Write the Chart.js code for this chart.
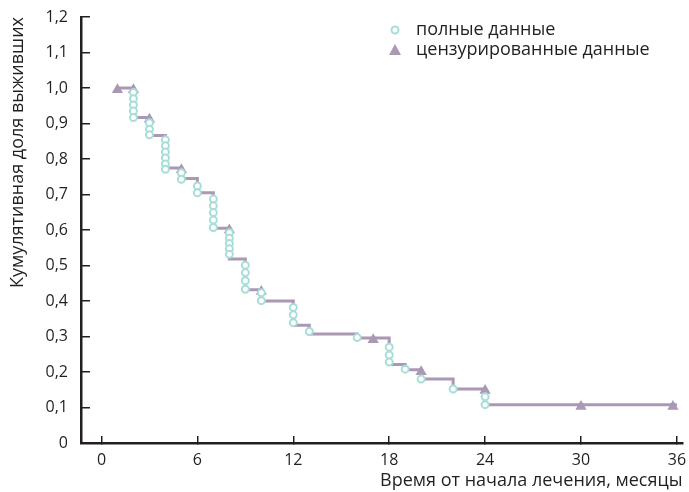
<!DOCTYPE html>
<html>
<head>
<meta charset="utf-8">
<script src="https://cdn.jsdelivr.net/npm/chart.js@4/dist/chart.umd.min.js"></script>
<style>
  html, body { margin: 0; padding: 0; background: #fff; }
  #wrap { width: 689px; height: 492px; }
</style>
</head>
<body>
<div id="wrap"><canvas id="kmChart" width="689" height="492"></canvas></div>
<script>
// ---- data ----
// step curve (level after each time point)
const lineTimes  = [1, 2, 3, 4, 5, 6, 7, 8, 9, 10, 12, 13, 16, 18, 19, 20, 22, 24, 36];
const lineLevels = [1.0, 0.917, 0.866, 0.775, 0.745, 0.705, 0.605, 0.518, 0.432, 0.400, 0.332, 0.307, 0.296, 0.221, 0.206, 0.180, 0.152, 0.108, 0.108];

// complete data (events, circles)
const eventTimes  = [2, 2, 2, 2, 2, 3, 3, 3, 4, 4, 4, 4, 4, 4, 5, 5, 6, 6, 7, 7, 7, 7, 7,
                     8, 8, 8, 8, 8, 9, 9, 9, 9, 10, 10, 12, 12, 12, 13, 16, 18, 18, 18, 19, 20, 22, 24, 24];
const eventValues = [0.987, 0.970, 0.952, 0.935, 0.917, 0.902, 0.884, 0.868,
                     0.854, 0.837, 0.820, 0.803, 0.786, 0.771, 0.761, 0.743, 0.724, 0.705,
                     0.687, 0.668, 0.649, 0.628, 0.607, 0.592, 0.577, 0.562, 0.547, 0.532,
                     0.501, 0.480, 0.457, 0.433, 0.423, 0.401, 0.382, 0.361, 0.339, 0.314,
                     0.297, 0.270, 0.248, 0.228, 0.208, 0.180, 0.152, 0.130, 0.108];

// censored data (triangles)
const censoredTimes  = [1, 2, 3, 5, 8, 10, 17, 20, 24, 30, 35.75];
const censoredValues = [0.995, 0.995, 0.912, 0.770, 0.600, 0.427, 0.291, 0.201, 0.148, 0.103, 0.103];

const xTicks = [0, 6, 12, 18, 24, 30, 36];
const legendLabels = ["полные данные", "цензурированные данные"];

const circleColor = "rgb(168, 222, 216)";
const mauve = "rgb(170, 152, 180)";
const ink = "#231f20";
const fontName = "'Open Sans', sans-serif";

function toPoints(xs, ys) {
  return xs.map(function (x, i) { return { x: x, y: ys[i] }; });
}

// legend drawn in the upper right corner, like the original
const cornerLegend = {
  id: "cornerLegend",
  afterDraw: function (chart) {
    const ctx = chart.ctx;
    ctx.save();
    ctx.font = "18px " + fontName;
    ctx.textBaseline = "middle";
    ctx.textAlign = "left";

    // circle
    ctx.beginPath();
    ctx.arc(395, 30, 3.5, 0, Math.PI * 2);
    ctx.fillStyle = "#fff";
    ctx.fill();
    ctx.lineWidth = 2;
    ctx.strokeStyle = circleColor;
    ctx.stroke();
    ctx.fillStyle = ink;
    ctx.fillText(legendLabels[0], 416, 30);

    // triangle
    ctx.beginPath();
    ctx.moveTo(395, 44);
    ctx.lineTo(401, 55);
    ctx.lineTo(389, 55);
    ctx.closePath();
    ctx.fillStyle = mauve;
    ctx.fill();
    ctx.fillStyle = ink;
    ctx.fillText(legendLabels[1], 416, 50);
    ctx.restore();
  }
};

const config = {
  type: "scatter",
  data: {
    datasets: [
      {
        label: legendLabels[0],
        data: toPoints(eventTimes, eventValues),
        pointStyle: "circle",
        pointRadius: 3.5,
        pointBorderWidth: 2,
        pointBorderColor: circleColor,
        pointBackgroundColor: "#fff",
        showLine: false
      },
      {
        label: legendLabels[1],
        data: toPoints(censoredTimes, censoredValues),
        pointStyle: "triangle",
        pointRadius: 6.5,
        pointBorderWidth: 0,
        pointBackgroundColor: mauve,
        pointBorderColor: mauve,
        showLine: false
      },
      {
        label: "curve",
        data: toPoints(lineTimes, lineLevels),
        showLine: true,
        stepped: true,
        borderColor: mauve,
        borderWidth: 3,
        pointRadius: 0,
        fill: false
      }
    ]
  },
  options: {
    responsive: false,
    animation: false,
    layout: { padding: { top: 17, right: 6, left: 0, bottom: 0 } },
    plugins: {
      legend: { display: false },
      tooltip: { enabled: false }
    },
    scales: {
      x: {
        type: "linear",
        min: -1.28,
        max: 36.35,
        afterBuildTicks: function (axis) {
          axis.ticks = xTicks.map(function (v) { return { value: v }; });
        },
        afterFit: function (axis) {
          axis.height = 49;
          axis.paddingLeft = 0;
          axis.paddingRight = 0;
        },
        grid: {
          drawOnChartArea: false,
          drawTicks: true,
          tickLength: -7,
          color: ink,
          lineWidth: 1.5
        },
        border: { color: ink, width: 2.5 },
        ticks: {
          color: ink,
          font: { family: fontName, size: 16 },
          padding: 15,
          maxRotation: 0,
          autoSkip: false
        },
        title: {
          display: true,
          text: "Время от начала лечения, месяцы",
          align: "end",
          color: ink,
          font: { family: fontName, size: 18 },
          padding: { top: 0, bottom: 0 }
        }
      },
      y: {
        min: 0,
        max: 1.2,
        afterFit: function (axis) {
          axis.width = 81;
          axis.paddingTop = 0;
          axis.paddingBottom = 0;
        },
        grid: {
          drawOnChartArea: false,
          drawTicks: true,
          tickLength: -9,
          color: ink,
          lineWidth: 1.5
        },
        border: { color: ink, width: 2.5 },
        ticks: {
          stepSize: 0.1,
          color: ink,
          font: { family: fontName, size: 16 },
          padding: 22,
          callback: function (v) {
            const r = Math.round(v * 10) / 10;
            return r === 0 ? "0" : r.toFixed(1).replace(".", ",");
          }
        },
        title: {
          display: true,
          text: "Кумулятивная доля выживших",
          align: "end",
          color: ink,
          font: { family: fontName, size: 18 },
          padding: { top: 7, bottom: 0 }
        }
      }
    }
  },
  plugins: [cornerLegend]
};

const kmChart = new Chart(document.getElementById("kmChart"), config);
</script>
</body>
</html>
